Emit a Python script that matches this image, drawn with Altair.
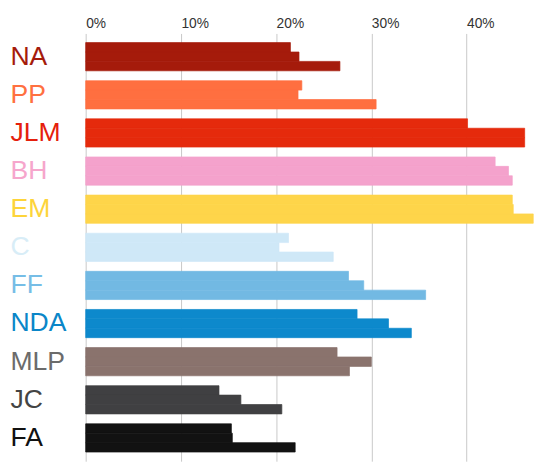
import altair as alt
import pandas as pd

categories = ["NA", "PP", "JLM", "BH", "EM", "C", "FF", "NDA", "MLP", "JC", "FA"]
wave1 = [21.5, 22.7, 40.1, 43.0, 44.8, 21.3, 27.6, 28.5, 26.4, 14.0, 15.3]
wave2 = [22.4, 22.3, 46.1, 44.4, 44.9, 20.3, 29.2, 31.8, 30.0, 16.3, 15.4]
wave3 = [26.7, 30.5, 46.1, 44.8, 47.0, 26.0, 35.7, 34.2, 27.7, 20.6, 22.0]
bar_colors = ["#a51b0b", "#ff6f40", "#e52a0c", "#f4a2cc", "#fed54a", "#cfe8f7",
              "#72b9e3", "#0d89cc", "#8a736d", "#404042", "#121212"]
label_colors = ["#a51b0b", "#ff7040", "#e5200c", "#f6a6cc", "#fdd43a", "#d8edf7",
                "#76bde6", "#0a86c8", "#6b6b6b", "#444444", "#111111"]
tick_values = [0, 10, 20, 30, 40]

rows = []
for i, c in enumerate(categories):
    for w, vals in enumerate([wave1, wave2, wave3], start=1):
        rows.append({"cat": c, "wave": w, "value": vals[i]})
df = pd.DataFrame(rows)

color_expr = " : ".join(
    f"datum.value === '{c}' ? '{col}'" for c, col in zip(categories, label_colors)
) + " : '#333'"

color_scale = alt.Scale(domain=categories, range=bar_colors)

chart = alt.Chart(df).mark_bar(strokeWidth=0.7).encode(
    x=alt.X("value:Q",
            scale=alt.Scale(domain=[0, 47.5], nice=False, zero=True),
            axis=alt.Axis(orient="top", values=tick_values,
                          labelExpr="datum.value + '%'", labelAlign="left",
                          labelFontSize=14, labelColor="#333333", labelPadding=3,
                          labelFlush=False, domain=False, ticks=False,
                          grid=True, gridColor="#c8c8c8", gridWidth=1, title=None)),
    y=alt.Y("cat:N", sort=categories,
            scale=alt.Scale(paddingInner=0.26, paddingOuter=0.24),
            axis=alt.Axis(orient="left", domain=False, ticks=False, grid=False,
                          labelAlign="left", labelPadding=77, labelFontSize=27,
                          labelColor={"expr": color_expr}, labelLimit=300,
                          title=None)),
    yOffset=alt.YOffset("wave:O", scale=alt.Scale(paddingInner=0, paddingOuter=0)),
    color=alt.Color("cat:N", scale=color_scale, legend=None),
    stroke=alt.Stroke("cat:N", scale=color_scale, legend=None),
).properties(
    width=460,
    height=435,
    autosize=alt.AutoSizeParams(type="none"),
    padding={"left": 79, "top": 22, "right": 0, "bottom": 0},
).configure(
    font="Liberation Sans",
).configure_view(
    stroke=None,
)

chart.save("out.html", embed_options={"renderer": "svg", "actions": False})
